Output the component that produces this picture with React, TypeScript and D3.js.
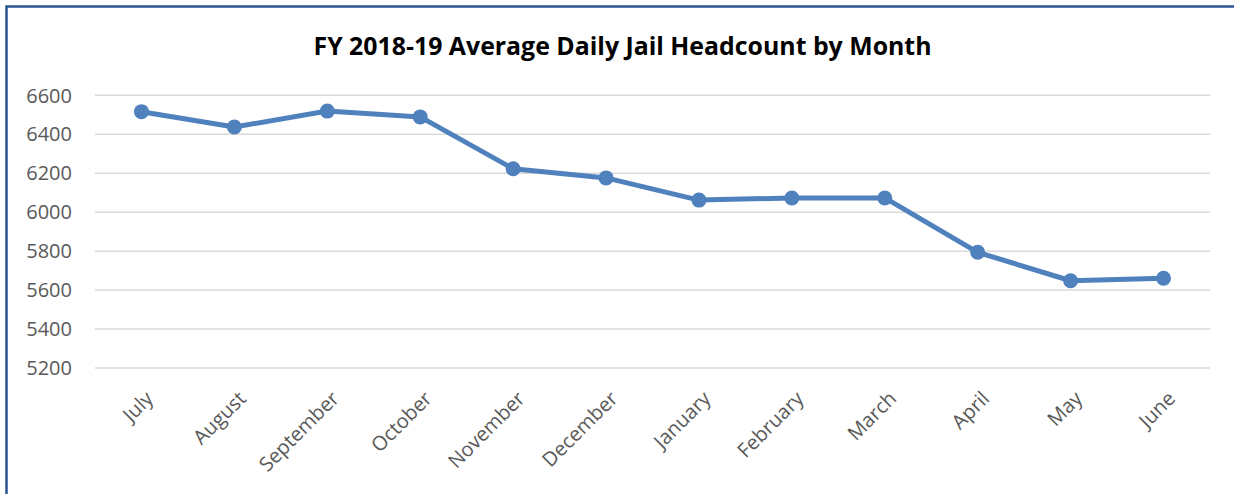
import React from "react";
import * as d3 from "d3";

const months = ["July","August","September","October","November","December","January","February","March","April","May","June"];
const headcount = [6516, 6437, 6519, 6489, 6223, 6176, 6062, 6073, 6073, 5794, 5648, 5661];
const yTicks = [5200, 5400, 5600, 5800, 6000, 6200, 6400, 6600];
const title = "FY 2018-19 Average Daily Jail Headcount by Month";

export default function App() {
  const W = 1234, H = 494;
  const left = 95, right = 1210, top = 95.3, bottom = 368;
  const x = d3.scaleBand<string>().domain(months).range([left, right]);
  const y = d3.scaleLinear().domain([5200, 6600]).range([bottom, top]);
  const line = d3.line<number>()
    .x((_, i) => (x(months[i]) as number) + x.bandwidth() / 2)
    .y((d) => y(d));
  const font = "'Open Sans', 'Noto Sans', sans-serif";
  return (
    <svg width={W} height={H} style={{ position: "absolute", left: 0, top: 0 }}>
      <rect x={0} y={0} width={W} height={H} fill="#fff" />
      <rect x={6.5} y={6.5} width={W - 2} height={H + 10} fill="none" stroke="#2a5591" strokeWidth={2.5} />
      <text x={622.5} y={55} textAnchor="middle" fontFamily={font} fontWeight="bold" fontSize={25}
        textLength={618} lengthAdjust="spacingAndGlyphs" fill="#000">
        {title}
      </text>
      {yTicks.map((t) => (
        <g key={t}>
          <line x1={left} x2={right} y1={y(t)} y2={y(t)} stroke="#d9d9d9" strokeWidth={1.5} />
          <text x={72} y={y(t)} dy="0.36em" textAnchor="end" fontFamily={font} fontSize={20} fill="#595959">
            {t}
          </text>
        </g>
      ))}
      {months.map((m) => {
        const cx = (x(m) as number) + x.bandwidth() / 2;
        return (
          <text key={m} transform={`translate(${cx + 3},${390}) rotate(-45)`} textAnchor="end" dy="0.7em"
            fontFamily={font} fontSize={20} fill="#595959">
            {m}
          </text>
        );
      })}
      <path d={line(headcount) || ""} fill="none" stroke="#4f81bd" strokeWidth={5} strokeLinejoin="round" />
      {headcount.map((v, i) => (
        <circle key={i} cx={(x(months[i]) as number) + x.bandwidth() / 2} cy={y(v)} r={7.5} fill="#4f81bd" />
      ))}
    </svg>
  );
}
